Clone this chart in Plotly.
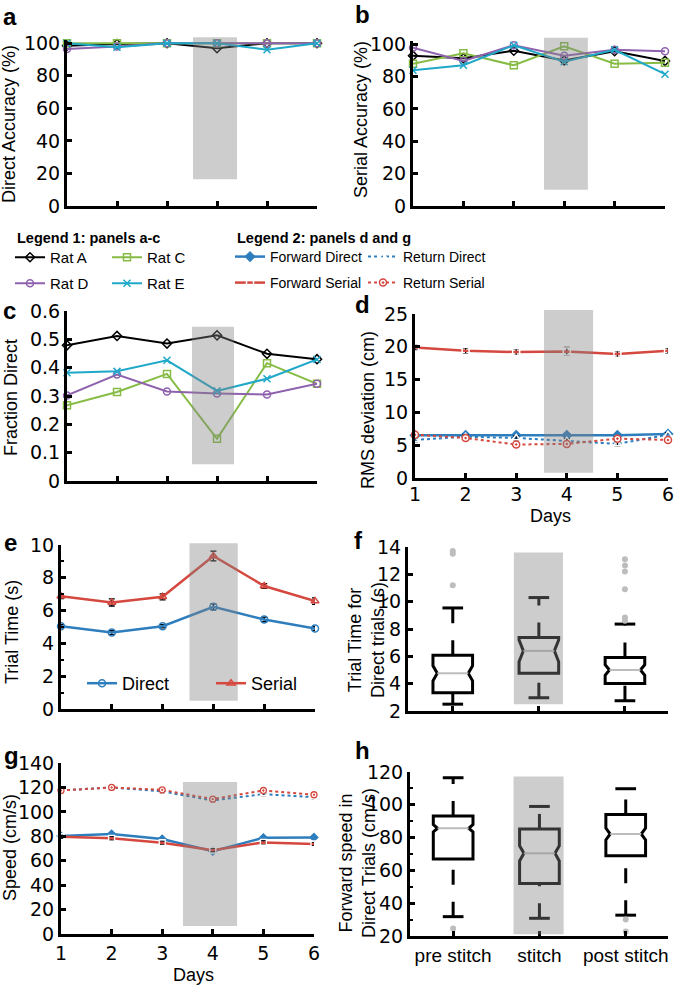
import numpy as np
import plotly.graph_objects as go

W, H = 681, 987

# ---------------- data ----------------
days = [1, 2, 3, 4, 5, 6]

rat_names = ["Rat A", "Rat C", "Rat D", "Rat E"]

# panel a: Direct accuracy (%)
direct_acc_A = [98.5, 99.5, 100, 97, 100, 100]
direct_acc_C = [100, 100, 100, 100, 100, 100]
direct_acc_D = [96.5, 98, 100, 100, 100, 100]
direct_acc_E = [100, 97.5, 100, 100, 96, 100]

# panel b: Serial accuracy (%)
serial_acc_A = [92.9, 91.4, 96.0, 90.0, 95.7, 89.7]
serial_acc_C = [88.0, 94.4, 87.0, 98.7, 88.0, 88.6]
serial_acc_D = [97.8, 89.7, 99.4, 92.9, 96.6, 95.7]
serial_acc_E = [83.9, 87.0, 99.4, 89.2, 96.6, 81.5]

# panel c: Fraction direct
frac_direct_A = [0.479, 0.512, 0.485, 0.514, 0.449, 0.430]
frac_direct_C = [0.267, 0.314, 0.378, 0.149, 0.416, 0.343]
frac_direct_D = [0.302, 0.376, 0.316, 0.309, 0.305, 0.343]
frac_direct_E = [0.382, 0.387, 0.426, 0.318, 0.361, 0.429]

# panel d: RMS deviation (cm)
rms_fwd_direct = [6.5, 6.5, 6.5, 6.5, 6.5, 6.7]
rms_fwd_direct_err = [0.2, 0.2, 0.2, 0.2, 0.2, 0.2]
rms_ret_direct = [5.8, 6.3, 6.1, 5.7, 5.2, 6.6]
rms_ret_direct_err = [0.3, 0.3, 0.3, 0.3, 0.3, 0.3]
rms_fwd_serial = [19.9, 19.4, 19.2, 19.3, 18.9, 19.4]
rms_fwd_serial_err = [0.4, 0.45, 0.5, 0.6, 0.5, 0.45]
rms_ret_serial = [6.6, 6.1, 5.1, 5.2, 6.0, 5.8]
rms_ret_serial_err = [0.3, 0.3, 0.3, 0.3, 0.3, 0.3]

# panel e: Trial time (s)
time_direct = [5.05, 4.66, 5.05, 6.23, 5.46, 4.91]
time_direct_err = [0.10, 0.12, 0.10, 0.18, 0.14, 0.12]
time_serial = [6.88, 6.50, 6.84, 9.33, 7.50, 6.58]
time_serial_err = [0.15, 0.22, 0.18, 0.30, 0.15, 0.20]

# panel g: Speed (cm/s)
speed_fwd_direct = [80.2, 81.8, 77.7, 67.8, 78.8, 79.1]
speed_fwd_serial = [79.6, 78.3, 74.7, 68.6, 75.0, 73.7]
speed_ret_direct = [117.5, 120.0, 116.7, 109.3, 114.5, 112.0]
speed_ret_serial = [117.5, 120.0, 118.0, 110.4, 117.5, 114.0]
speed_err = [1.2, 1.2, 1.2, 1.2, 1.2, 1.2]

# panels f / h: box statistics
conditions = ["pre stitch", "stitch", "post stitch"]
f_q1 = [3.34, 4.76, 4.02]
f_med = [4.76, 6.40, 5.00]
f_q3 = [6.08, 7.38, 5.91]
f_lo = [2.50, 2.97, 2.75]
f_hi = [9.54, 10.30, 8.36]
f_notch = [0.55, 0.80, 0.38]
f_outliers = [[13.7, 13.5, 11.2], [], [8.85, 8.6, 10.9, 12.2, 12.65, 13.1]]

h_q1 = [66.9, 52.0, 69.0]
h_med = [85.7, 70.4, 82.2]
h_q3 = [93.1, 85.3, 94.1]
h_lo = [31.8, 30.8, 32.7]
h_hi = [116.5, 99.0, 109.8]
h_notch = [2.2, 4.6, 3.6]
h_outliers = [[24.5], [], [30.0, 22.7]]

# stitch shading per panel a..h (data units of each panel)
shade_x0 = [3.52, 3.60, 3.50, 3.55, 3.53, 0.71, 3.41, 0.70]
shade_x1 = [4.40, 4.47, 4.34, 4.52, 4.48, 1.28, 4.48, 1.28]
shade_y0 = [16.5, 10.0, 0.059, 0.8, 0.5, 2.5, 6.5, 21.0]
shade_y1 = [103.7, 104.0, 0.544, 25.6, 10.1, 13.6, 124.5, 117.3]

# ---------------- styling ----------------
BLACK = "#000000"
GREEN = "#86BC45"
PURPLE = "#8F62AE"
CYAN = "#1FA8C9"
BLUE = "#2E7EBE"
RED = "#D5483F"
rat_colors = [BLACK, GREEN, PURPLE, CYAN]
rat_symbols = ["diamond-open", "square-open", "circle-open", "x-thin-open"]

TICKFONT = dict(family="DejaVu Sans", size=19, color="black")
CATFONT = dict(family="Liberation Sans, Arial", size=19, color="black")
TITLEFONT = dict(family="Liberation Sans, Arial", size=18, color="black")
ARIAL = "Liberation Sans, Arial"

fig = go.Figure()


def fx(px):
    return px / W


def fy(py):
    return 1 - py / H


# panel geometry in pixels: left, right, top, bottom ; ranges
panel_geo = {
    1: dict(px=(67, 317, 40, 206), xr=[1, 6], yr=[0, 102]),
    2: dict(px=(413, 665, 41, 206), xr=[1, 6], yr=[0, 102]),
    3: dict(px=(67, 317, 311, 481), xr=[1, 6], yr=[0, 0.6]),
    4: dict(px=(415, 668, 314, 478), xr=[1, 6], yr=[0, 25]),
    5: dict(px=(61, 315, 545, 709), xr=[1, 6], yr=[0, 10]),
    6: dict(px=(408, 668, 547, 711), xr=[-0.52, 2.5], yr=[2, 14]),
    7: dict(px=(61, 314, 763, 934), xr=[1, 6], yr=[0, 140]),
    8: dict(px=(410, 668, 772, 936), xr=[-0.5, 2.49], yr=[20, 120]),
}
ytick_info = {
    1: dict(tick0=0, dtick=20),
    2: dict(tick0=0, dtick=20),
    3: dict(tick0=0, dtick=0.1),
    4: dict(tick0=0, dtick=5),
    5: dict(tick0=0, dtick=2, minor=1),
    6: dict(tick0=2, dtick=2),
    7: dict(tick0=0, dtick=20),
    8: dict(tick0=20, dtick=20, minor=10),
}


def axname(prefix, n):
    return prefix if n == 1 else f"{prefix}{n}"


layout_axes = {}
for n, g in panel_geo.items():
    l, r, t, b = g["px"]
    is_box = n in (6, 8)
    xa = dict(
        domain=[fx(l), fx(r)], range=g["xr"], anchor=axname("y", n),
        showline=True, linecolor="black", linewidth=3,
        ticks="inside", ticklen=5, tickwidth=2.5, tickcolor="black",
        showgrid=False, zeroline=False, fixedrange=True, automargin=False,
        tickfont=CATFONT if is_box else TICKFONT, tickangle=0,
        tickmode="array",
        tickvals=[0, 1, 2] if is_box else days,
        ticktext=conditions if is_box else [str(d) for d in days],
        showticklabels=n in (4, 7, 8),
        ticklabelstandoff=-3 if n == 4 else 0,
    )
    ti = ytick_info[n]
    ya = dict(
        domain=[fy(b), fy(t)], range=g["yr"], anchor=axname("x", n),
        showline=True, linecolor="black", linewidth=3,
        ticks="inside", ticklen=5, tickwidth=2.5, tickcolor="black",
        showgrid=False, zeroline=False, tickfont=TICKFONT, fixedrange=True,
        automargin=False, tick0=ti["tick0"], dtick=ti["dtick"],
    )
    if "minor" in ti:
        ya["minor"] = dict(ticks="inside", dtick=ti["minor"], ticklen=3,
                           tickwidth=2, tickcolor="black", showgrid=False)
    layout_axes[axname("xaxis", n)] = xa
    layout_axes[axname("yaxis", n)] = ya


def ref(n):
    return axname("x", n), axname("y", n)


# ---------------- panels a-c (rats) ----------------
rat_data = {
    1: [direct_acc_A, direct_acc_C, direct_acc_D, direct_acc_E],
    2: [serial_acc_A, serial_acc_C, serial_acc_D, serial_acc_E],
    3: [frac_direct_A, frac_direct_C, frac_direct_D, frac_direct_E],
}
rat_legend = ["legend", "legend", "legend2", "legend2"]
for n, series in rat_data.items():
    xr_, yr_ = ref(n)
    for k, ys in enumerate(series):
        fig.add_trace(go.Scatter(
            x=days, y=ys, mode="lines+markers", name=rat_names[k],
            line=dict(color=rat_colors[k], width=2),
            marker=dict(symbol=rat_symbols[k], size=7, color=rat_colors[k],
                        line=dict(width=1.5, color=rat_colors[k])),
            xaxis=xr_, yaxis=yr_, cliponaxis=False,
            showlegend=(n == 1), legend=rat_legend[k],
        ))

# ---------------- panel d ----------------
xr_, yr_ = ref(4)
d_series = [
    ("Forward Direct", rms_fwd_direct, rms_fwd_direct_err, BLUE, "solid", "diamond", "legend3"),
    ("Return Direct", rms_ret_direct, rms_ret_direct_err, BLUE, "dot", "triangle-up-open", "legend3"),
    ("Forward Serial", rms_fwd_serial, rms_fwd_serial_err, RED, "solid", "square-open", "legend4"),
    ("Return Serial", rms_ret_serial, rms_ret_serial_err, RED, "dot", "circle-dot", "legend4"),
]
for name, ys, err, col, dash, sym, leg in d_series:
    fig.add_trace(go.Scatter(
        x=days, y=ys, mode="lines+markers", name=name,
        line=dict(color=col, width=2.5 if dash == "solid" else 2, dash=dash),
        marker=dict(symbol=sym, size=7, color=col if sym == "diamond" else "white",
                    line=dict(width=1.5, color=col)),
        error_y=dict(type="data", array=err, color="black", thickness=1.3, width=3),
        xaxis=xr_, yaxis=yr_, cliponaxis=False, legend=leg,
    ))

# ---------------- panel g ----------------
xr_, yr_ = ref(7)
g_series = [
    (speed_ret_direct, BLUE, "dot", "triangle-up-open"),
    (speed_ret_serial, RED, "dot", "circle-dot"),
    (speed_fwd_direct, BLUE, "solid", "diamond"),
    (speed_fwd_serial, RED, "solid", "square-open"),
]
for ys, col, dash, sym in g_series:
    fig.add_trace(go.Scatter(
        x=days, y=ys, mode="lines+markers", showlegend=False,
        line=dict(color=col, width=2.5 if dash == "solid" else 2, dash=dash),
        marker=dict(symbol=sym, size=6, color=col if sym == "diamond" else "white",
                    line=dict(width=1.3, color=col)),
        error_y=dict(type="data", array=speed_err, color="black", thickness=1.2, width=2.5),
        xaxis=xr_, yaxis=yr_, cliponaxis=False,
    ))

# ---------------- panel e ----------------
xr_, yr_ = ref(5)
for name, ys, err, col, sym in [
    ("Direct", time_direct, time_direct_err, BLUE, "circle-open"),
    ("Serial", time_serial, time_serial_err, RED, "triangle-up-open"),
]:
    fig.add_trace(go.Scatter(
        x=days, y=ys, mode="lines+markers", name=name,
        line=dict(color=col, width=2.5),
        marker=dict(symbol=sym, size=7, color=col, line=dict(width=1.5, color=col)),
        error_y=dict(type="data", array=err, color="black", thickness=1.3, width=3),
        xaxis=xr_, yaxis=yr_, cliponaxis=False, legend="legend5",
    ))

# ---------------- box panels f, h ----------------
BW = 0.23     # half box width (category units)
NI = 0.05     # notch indent
CW = 0.12     # cap half width
GRAY = "#BDBDBD"


def add_boxes(n, q1, med, q3, lo, hi, notch, outliers):
    xr_, yr_ = ref(n)
    for i in range(len(q1)):
        nc = notch[i]
        xs = [i - BW, i + BW, i + BW, i + BW - NI, i + BW, i + BW,
              i - BW, i - BW, i - BW + NI, i - BW, i - BW, i + BW]
        ys = [q1[i], q1[i], med[i] - nc, med[i], med[i] + nc, q3[i],
              q3[i], med[i] + nc, med[i], med[i] - nc, q1[i], q1[i]]
        fig.add_trace(go.Scatter(x=xs, y=ys, mode="lines", showlegend=False,
                                 line=dict(color="black", width=3),
                                 xaxis=xr_, yaxis=yr_))
        fig.add_trace(go.Scatter(x=[i - BW + NI, i + BW - NI], y=[med[i], med[i]],
                                 mode="lines", showlegend=False,
                                 line=dict(color=GRAY, width=2),
                                 xaxis=xr_, yaxis=yr_))
        for y0, y1 in [(lo[i], q1[i]), (q3[i], hi[i])]:
            fig.add_trace(go.Scatter(x=[i, i], y=[y0, y1], mode="lines", showlegend=False,
                                     line=dict(color="black", width=3, dash="15px,17px"),
                                     xaxis=xr_, yaxis=yr_))
        for yc in (lo[i], hi[i]):
            fig.add_trace(go.Scatter(x=[i - CW, i + CW], y=[yc, yc], mode="lines",
                                     showlegend=False, line=dict(color="black", width=3),
                                     xaxis=xr_, yaxis=yr_))
        if outliers[i]:
            fig.add_trace(go.Scatter(x=[i] * len(outliers[i]), y=outliers[i], mode="markers",
                                     showlegend=False,
                                     marker=dict(color=GRAY, size=6),
                                     xaxis=xr_, yaxis=yr_, cliponaxis=False))


add_boxes(6, f_q1, f_med, f_q3, f_lo, f_hi, f_notch, f_outliers)
add_boxes(8, h_q1, h_med, h_q3, h_lo, h_hi, h_notch, h_outliers)

# ---------------- shading (stitch day) ----------------
shapes = []
for k in range(8):
    n = k + 1
    g = panel_geo[n]
    x0, x1 = g["xr"]
    y0, y1 = g["yr"]
    shapes.append(dict(
        type="rect", layer="above",
        xref=axname("x", n) + " domain", yref=axname("y", n) + " domain",
        x0=(shade_x0[k] - x0) / (x1 - x0), x1=(shade_x1[k] - x0) / (x1 - x0),
        y0=(shade_y0[k] - y0) / (y1 - y0), y1=(shade_y1[k] - y0) / (y1 - y0),
        fillcolor="rgba(130,130,130,0.40)", line=dict(width=0),
    ))

# ---------------- annotations ----------------
ann = []
letters = [("a", 10, 16), ("b", 362, 14), ("c", 9, 310), ("d", 362, 305),
           ("e", 10, 542), ("f", 358, 540), ("g", 11, 755), ("h", 362, 750)]
for txt, x, y in letters:
    ann.append(dict(text=f"<b>{txt}</b>", x=fx(x), y=fy(y), xref="paper", yref="paper",
                    xanchor="center", yanchor="middle", showarrow=False,
                    font=dict(family=ARIAL, size=24, color="black")))

ytitles = [("Direct Accuracy (%)", 9, 124), ("Serial Accuracy (%)", 361, 120),
           ("Fraction Direct", 11, 398), ("RMS deviation (cm)", 368, 410),
           ("Trial Time (s)", 12, 632), ("Trial Time for<br>Direct trials (s)", 366, 640),
           ("Speed (cm/s)", 10, 848), ("Forward speed in<br>Direct Trials (cm/s)", 357, 863)]
for txt, x, y in ytitles:
    ann.append(dict(text=txt, x=fx(x), y=fy(y), xref="paper", yref="paper",
                    xanchor="center", yanchor="middle", showarrow=False, textangle=-90,
                    font=TITLEFONT))

for x, y in [(550, 516), (193, 975)]:
    ann.append(dict(text="Days", x=fx(x), y=fy(y), xref="paper", yref="paper",
                    xanchor="center", yanchor="middle", showarrow=False, font=TITLEFONT))

for txt, x, y in [("Legend 1: panels a-c", 15, 238), ("Legend 2: panels d and g", 235, 238)]:
    ann.append(dict(text=f"<b>{txt}</b>", x=fx(x), y=fy(y), xref="paper", yref="paper",
                    xanchor="left", yanchor="middle", showarrow=False,
                    font=dict(family=ARIAL, size=14.5, color="black")))

for n, ystar in [(6, 14.35), (8, 121.0)]:
    xr_, yr_ = ref(n)
    ann.append(dict(text="**", x=1, y=ystar, xref=xr_, yref=yr_, showarrow=False,
                    xanchor="center", yanchor="middle",
                    font=dict(family=ARIAL, size=15, color="black")))


# ---------------- legends ----------------
def leg(x, y, ew, size):
    return dict(x=fx(x), y=fy(y), xanchor="left", yanchor="top", orientation="h",
                entrywidth=ew, entrywidthmode="pixels", bgcolor="rgba(0,0,0,0)",
                font=dict(family=ARIAL, size=size, color="black"),
                traceorder="normal", borderwidth=0)


fig.update_layout(
    width=W, height=H, autosize=False,
    margin=dict(l=0, r=0, t=0, b=0, autoexpand=False),
    paper_bgcolor="white", plot_bgcolor="white",
    shapes=shapes, annotations=ann,
    legend=leg(10, 241, 52, 15),
    legend2=leg(10, 267, 52, 15),
    legend3=leg(230, 241, 88, 14),
    legend4=leg(230, 267, 88, 14),
    legend5=leg(82, 665, 84, 18),
    **layout_axes,
)

fig.write_html("out.html",
               config={"displayModeBar": False},
               post_script="document.body.style.margin='0';document.body.style.padding='0';")
